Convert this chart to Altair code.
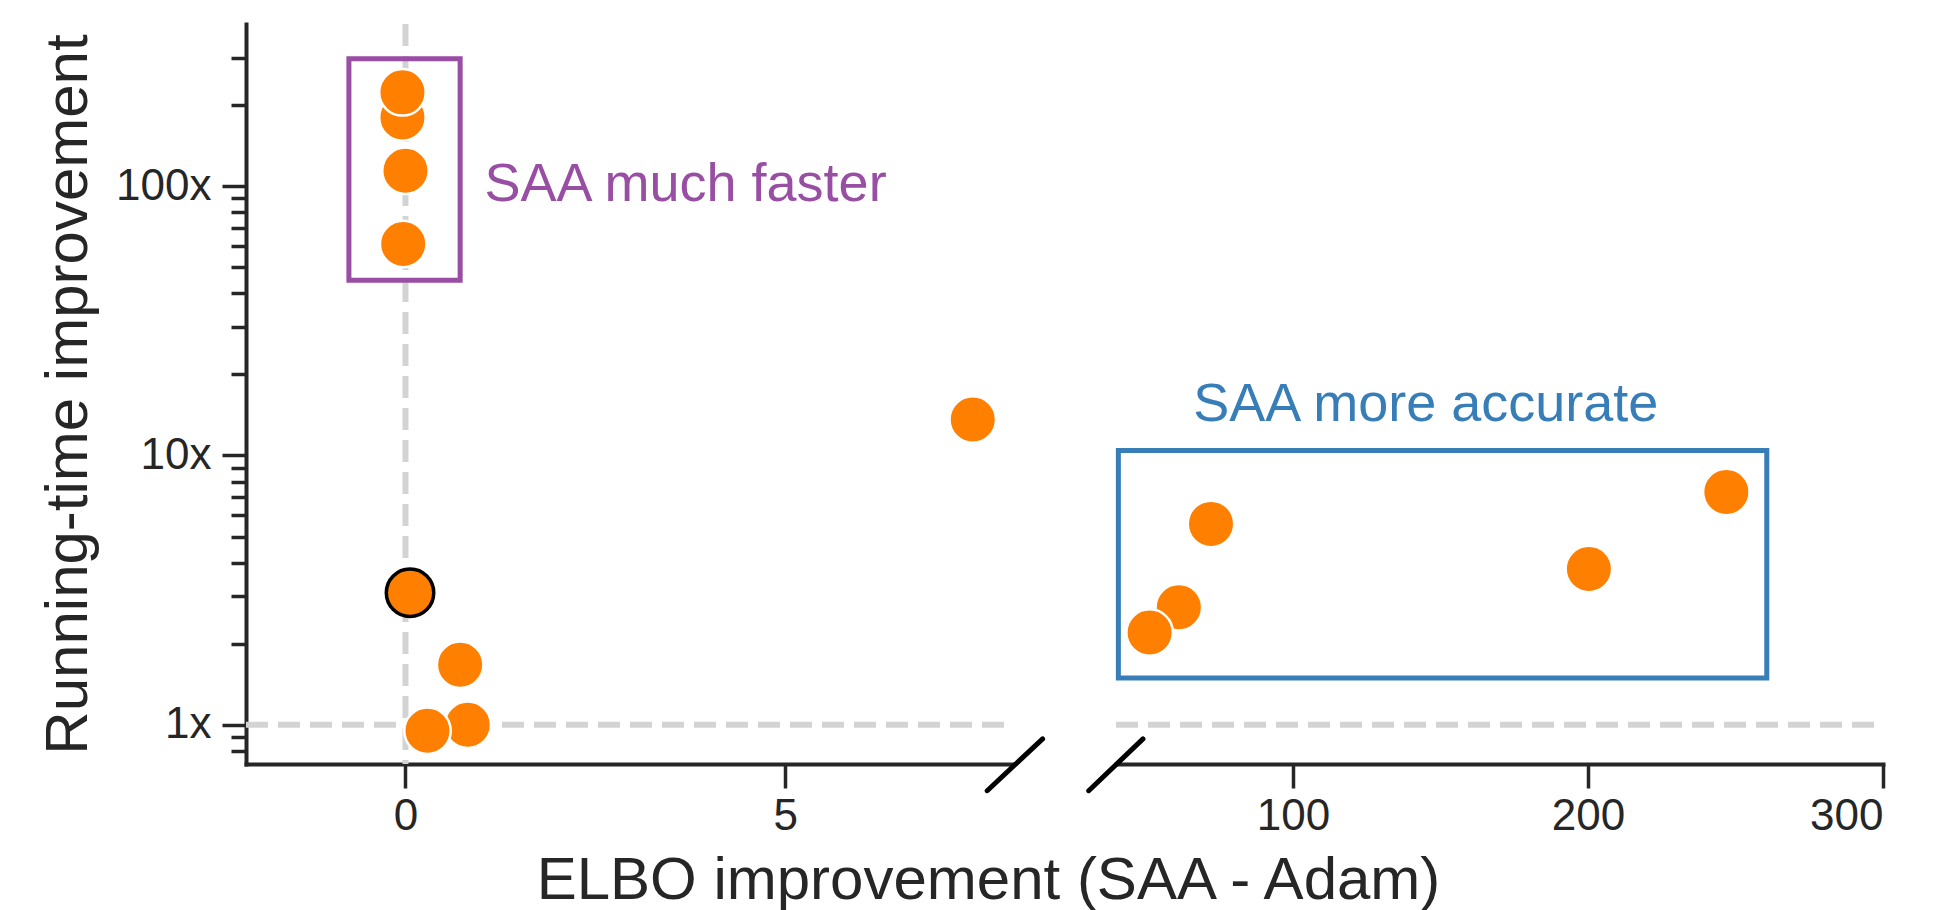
import altair as alt
import pandas as pd

FONT = "Liberation Sans"
INK = "#262626"
ORANGE = "#ff7f00"
PURPLE = "#984ea3"
BLUE = "#377eb8"
DASH = "#d3d3d3"

# ---- data ----
left_x = [-0.04, -0.04, 0.0, -0.03, 7.47, 0.72, 0.82, 0.29]
left_y = [180.0, 223.0, 114.0, 61.0, 13.6, 1.67, 1.0, 0.95]
ring_x = [0.06]
ring_y = [3.09]
right_x = [72.2, 61.3, 51.4, 200.3, 246.9]
right_y = [5.57, 2.73, 2.20, 3.79, 7.32]

y_domain = [0.715, 400]
left_domain = [-2.1, 8.0]
right_domain = [40, 300]
left_ticks = [0, 5]
right_ticks = [100, 200, 300]
y_major = [1, 10, 100]
y_minor = [0.8, 0.9, 2, 3, 4, 5, 6, 7, 8, 9, 20, 30, 40, 50, 60, 70, 80, 90, 200, 300]

# annotation boxes
fast_box = {"x": [-0.745], "x2": [0.72], "y": [44.7], "y2": [297.0]}
acc_box = {"x": [40.8], "x2": [260.6], "y": [1.49], "y2": [10.43]}
fast_label = {"x": [1.04], "y": [88.0], "t": ["SAA much faster"]}
acc_label = {"x": [145.0], "y": [13.4], "t": ["SAA more accurate"]}

# axis-break slashes (data units)
brk_left = {"x": [7.66], "x2": [8.39], "y": [0.569], "y2": [0.886]}
brk_right = {"x": [30.75], "x2": [49.15], "y": [0.569], "y2": [0.886]}

PANEL_W = 767
GAP = 103
W = 2 * PANEL_W + GAP
H = 740
PT_SIZE = 2160
RING_SIZE = 2250

yscale = alt.Scale(type="log", domain=y_domain, nice=False)
xs_left = alt.Scale(domain=left_domain, range=[0, PANEL_W], nice=False, zero=False)
xs_right = alt.Scale(domain=right_domain, range=[PANEL_W + GAP, W], nice=False, zero=False)

ax_left = alt.Axis(values=left_ticks, title=None, tickSize=24, labelPadding=6, format="d", orient="bottom")
ax_right = alt.Axis(values=right_ticks, title=None, tickSize=24, labelPadding=6, format="d", orient="bottom")
ay_major = alt.Axis(values=y_major, title="Running-time improvement", orient="left",
                    labelExpr="format(datum.value, 'd') + 'x'",
                    tickSize=24, labelPadding=11, titlePadding=16)
ay_minor = alt.Axis(values=y_minor, title=None, orient="left", labels=False,
                    domain=False, tickSize=15)

dash_rule = dict(color=DASH, strokeWidth=6, strokeDash=[22, 10])


def panel(xs, ys, xdomain, xscale, xaxis, major_axis, minor_axis, extras, brk, vline):
    layers = []
    h = pd.DataFrame({"x": [xdomain[0]], "x2": [xdomain[1]], "y": [1]})
    layers.append(alt.Chart(h).mark_rule(**dash_rule).encode(
        x=alt.X("x:Q", scale=xscale, axis=xaxis), x2="x2:Q",
        y=alt.Y("y:Q", scale=yscale, axis=major_axis)))
    if vline:
        v = pd.DataFrame({"x": [0]})
        layers.append(alt.Chart(v).mark_rule(**dash_rule).encode(
            x=alt.X("x:Q", scale=xscale, axis=xaxis)))
    pts = pd.DataFrame({"x": xs, "y": ys})
    layers.append(alt.Chart(pts).mark_circle(size=PT_SIZE, color=ORANGE, opacity=1, stroke="white",
                                             strokeWidth=2.5).encode(
        x=alt.X("x:Q", scale=xscale, axis=xaxis),
        y=alt.Y("y:Q", scale=yscale, axis=None)))
    for e in extras:
        layers.append(e(xscale, xaxis))
    b = pd.DataFrame(brk)
    layers.append(alt.Chart(b).mark_rule(color="black", strokeWidth=5, strokeCap="round", clip=False).encode(
        x=alt.X("x:Q", scale=xscale, axis=xaxis), x2="x2:Q",
        y=alt.Y("y:Q", scale=yscale, axis=minor_axis), y2="y2:Q"))
    return alt.layer(*layers).resolve_axis(y="independent")


def box(d, color):
    def f(xscale, xaxis):
        return alt.Chart(pd.DataFrame(d)).mark_rect(fillOpacity=0, stroke=color, strokeWidth=5).encode(
            x=alt.X("x:Q", scale=xscale, axis=xaxis), x2="x2:Q",
            y=alt.Y("y:Q", scale=yscale, axis=None), y2="y2:Q")
    return f


def label(d, color, align):
    def f(xscale, xaxis):
        return alt.Chart(pd.DataFrame(d)).mark_text(font=FONT, fontSize=54, color=color, align=align,
                                                   baseline="alphabetic").encode(
            x=alt.X("x:Q", scale=xscale, axis=xaxis),
            y=alt.Y("y:Q", scale=yscale, axis=None), text="t:N")
    return f


def ring(xscale, xaxis):
    return alt.Chart(pd.DataFrame({"x": ring_x, "y": ring_y})).mark_circle(
        size=RING_SIZE, color=ORANGE, opacity=1, stroke="black", strokeWidth=3.5).encode(
        x=alt.X("x:Q", scale=xscale, axis=xaxis),
        y=alt.Y("y:Q", scale=yscale, axis=None))


left = panel(left_x, left_y, left_domain, xs_left, ax_left, ay_major, ay_minor,
             [ring, box(fast_box, PURPLE), label(fast_label, PURPLE, "left")], brk_left, True)
right = panel(right_x, right_y, right_domain, xs_right, ax_right, None, None,
              [box(acc_box, BLUE), label(acc_label, BLUE, "center")], brk_right, False)

chart = alt.layer(left, right).resolve_scale(x="independent").resolve_axis(
    x="independent", y="independent").properties(
    width=W, height=H,
    title=alt.TitleParams(text="ELBO improvement (SAA - Adam)", orient="bottom", anchor="middle",
                          font=FONT, fontSize=60, fontWeight="normal", color=INK, offset=14, dx=-76),
    padding={"left": 30, "top": 13, "right": 5, "bottom": 5},
).configure_view(stroke=None).configure_axis(
    grid=False, domainColor=INK, domainWidth=4, tickColor=INK, tickWidth=3.5,
    labelFont=FONT, labelFontSize=44, labelColor=INK, titleFont=FONT, titleFontSize=60,
    titleFontWeight="normal", titleColor=INK, domainCap="square"
)

chart.save("out.html", embed_options={"renderer": "svg", "actions": False})
